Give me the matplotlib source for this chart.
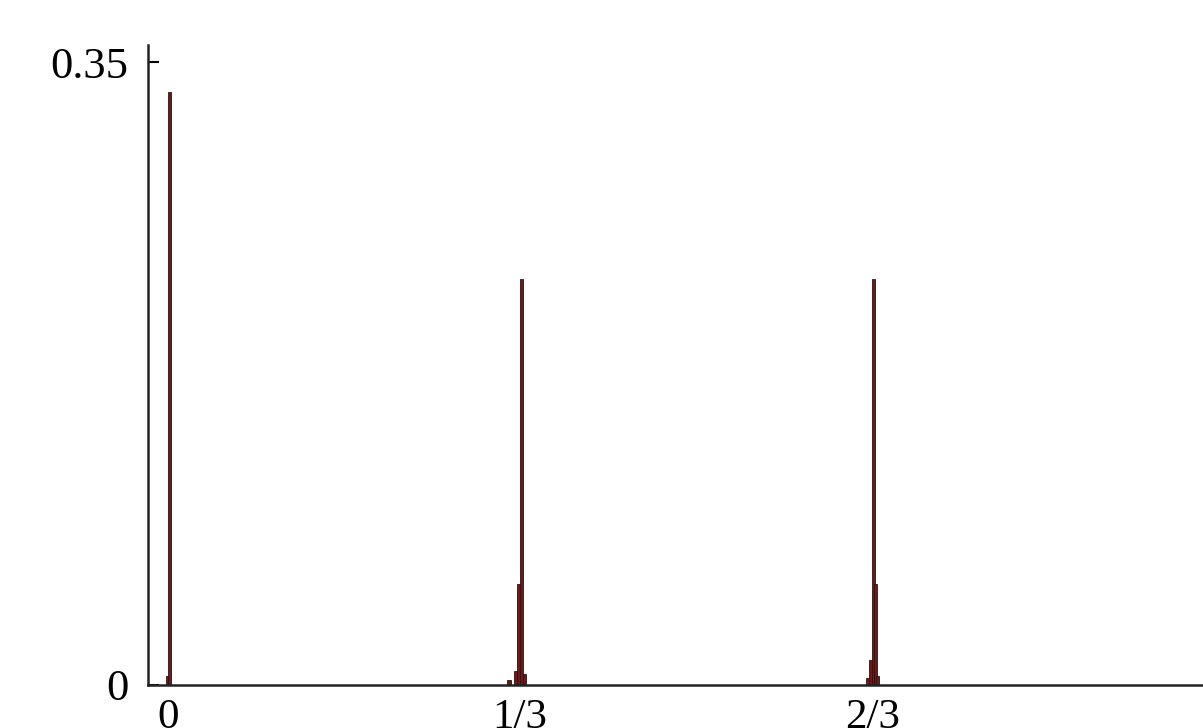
import numpy as np
import matplotlib
matplotlib.use("Agg")
import matplotlib.pyplot as plt

# histogram bins (left edges) and heights
bin_width = 0.003
bin_left = [-0.002, 0.0,
            1/3 - 0.012, 1/3 - 0.006, 1/3 - 0.003, 1/3, 1/3 + 0.003,
            2/3 - 0.006, 2/3 - 0.003, 2/3, 2/3 + 0.0015, 2/3 + 0.004]
bin_height = [0.005, 0.333,
              0.003, 0.008, 0.057, 0.228, 0.006,
              0.004, 0.014, 0.228, 0.057, 0.005]

xtick_pos = [0, 1/3, 2/3]
xtick_lab = ["0", "1/3", "2/3"]
ytick_pos = [0, 0.35]
ytick_lab = ["0", "0.35"]

plt.rcParams['font.family'] = ['Liberation Serif', 'DejaVu Serif']

fig = plt.figure(figsize=(12.03, 7.28), dpi=100)
ax = fig.add_axes([148/1203, 43/728, 1 - 148/1203, 640/728])

ax.bar(bin_left, bin_height, width=bin_width, align='edge',
       color='#7a1414', edgecolor='#1a1a1a', linewidth=0.6)

ax.set_xlim(-0.0189, 0.980)
ax.set_ylim(0, 0.3596)

ax.spines['top'].set_visible(False)
ax.spines['right'].set_visible(False)
for s in ['left', 'bottom']:
    ax.spines[s].set_linewidth(1.8)
    ax.spines[s].set_color('#222222')

ax.set_xticks(xtick_pos)
ax.set_xticklabels(xtick_lab)
ax.set_yticks(ytick_pos)
ax.set_yticklabels(ytick_lab)
ax.tick_params(axis='x', length=0, pad=10, labelsize=31)
ax.tick_params(axis='y', direction='in', length=8, width=1.5, pad=14, labelsize=32)

fig.savefig("out.png", dpi=100)
